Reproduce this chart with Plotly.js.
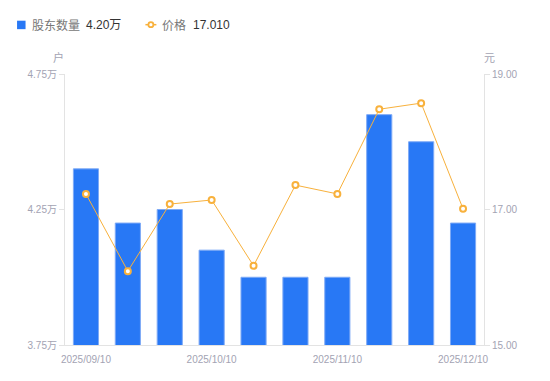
<!DOCTYPE html>
<html>
<head>
<meta charset="utf-8">
<script src="https://cdn.plot.ly/plotly-3.0.1.min.js"></script>
<style>html,body{margin:0;padding:0;background:#fff;}#chart{width:550px;height:381px;}</style>
</head>
<body>
<div id="chart"></div>
<script>
const dates = ["2025/09/10","2025/09/20","2025/09/30","2025/10/10","2025/10/20","2025/10/31","2025/11/10","2025/11/20","2025/11/30","2025/12/10"];
const holders = [4.40, 4.20, 4.25, 4.10, 4.00, 4.00, 4.00, 4.60, 4.50, 4.20];
const prices = [17.23, 16.09, 17.08, 17.14, 16.17, 17.36, 17.23, 18.48, 18.57, 17.01];
const xTickVals = ["2025/09/10","2025/10/10","2025/11/10","2025/12/10"];
const leftTicks = [3.75, 4.25, 4.75];
const leftTickText = ["3.75万","4.25万","4.75万"];
const rightTicks = [15, 17, 19];
const legendNames = ["股东数量", "价格"];
const legendValues = ["4.20万", "17.010"];

const FONT = "Arial, 'Liberation Sans', 'Noto Sans CJK SC', sans-serif";
const grey = "#a3a3b3";
const BLUE = "#2878f5", ORANGE = "#f8b13c";

const W = 550, H = 381;
const M = {l: 65, r: 65.5, t: 73.5, b: 35.5};
const PW = W - M.l - M.r, PH = H - M.t - M.b;
const px = v => (v - M.l) / PW;
const py = v => (H - M.b - v) / PH;

const traces = [
  {
    type: "bar", x: dates, y: holders, yaxis: "y", name: legendNames[0],
    marker: {color: BLUE, line: {color: "#7eaaf6", width: 1}},
    hoverinfo: "skip"
  },
  {
    type: "scatter", mode: "lines+markers", x: dates, y: prices, yaxis: "y2", name: legendNames[1],
    line: {color: ORANGE, width: 1},
    marker: {symbol: "circle", size: 6, color: "#ffffff", line: {color: ORANGE, width: 2}},
    hoverinfo: "skip", cliponaxis: false
  }
];

const ann = (text, x, y, color, size, xanchor) => ({
  text, xref: "paper", yref: "paper", x: px(x), y: py(y), xanchor: xanchor || "left", yanchor: "middle",
  showarrow: false, font: {size, color, family: FONT}
});

const layout = {
  width: W, height: H,
  margin: M,
  paper_bgcolor: "#fff", plot_bgcolor: "#fff",
  font: {family: FONT, size: 10, color: grey},
  bargap: 0.4,
  showlegend: false,
  xaxis: {
    type: "category", range: [-0.5, dates.length - 0.5], tickmode: "array", tickvals: xTickVals, ticktext: xTickVals,
    showgrid: false, showline: true, linecolor: "#e3e3e3", linewidth: 1,
    ticks: "outside", ticklen: 5, tickcolor: "rgba(0,0,0,0)", tickfont: {size: 10, color: grey}, zeroline: false, fixedrange: true
  },
  yaxis: {
    range: [3.75, 4.75], tickmode: "array", tickvals: leftTicks, ticktext: leftTickText,
    showgrid: false, showline: true, linecolor: "#e3e3e3", linewidth: 1,
    ticks: "outside", ticklen: 5, tickcolor: "#e3e3e3", tickfont: {size: 10, color: grey},
    zeroline: false, fixedrange: true
  },
  yaxis2: {
    overlaying: "y", side: "right",
    range: [15, 19], tickmode: "array", tickvals: rightTicks, tickformat: ".2f",
    showgrid: false, showline: true, linecolor: "#e3e3e3", linewidth: 1,
    ticks: "outside", ticklen: 5, tickcolor: "#e3e3e3", tickfont: {size: 10, color: grey},
    zeroline: false, fixedrange: true
  },
  shapes: [
    {type: "rect", xref: "paper", yref: "paper", x0: px(17), x1: px(25.5), y0: py(28.5), y1: py(20), fillcolor: BLUE, line: {width: 0}, layer: "above"},
    {type: "line", xref: "paper", yref: "paper", x0: px(145.5), x1: px(156.5), y0: py(24), y1: py(24), line: {color: ORANGE, width: 1.5}, layer: "above"},
    {type: "circle", xref: "paper", yref: "paper", x0: px(148.5), x1: px(153.5), y0: py(26.5), y1: py(21.5), fillcolor: "#fff", line: {color: ORANGE, width: 1.8}, layer: "above"}
  ],
  annotations: [
    ann(legendNames[0], 30, 24.5, "#777", 12),
    ann(legendValues[0], 84, 24.5, "#333", 12),
    ann(legendNames[1], 160, 24.5, "#777", 12),
    ann(legendValues[1], 191, 24.5, "#333", 12),
    ann("户", 58.5, 57, grey, 11, "center"),
    ann("元", 490, 57, grey, 11, "center")
  ]
};

Plotly.newPlot("chart", traces, layout, {displayModeBar: false, staticPlot: true});
</script>
</body>
</html>
